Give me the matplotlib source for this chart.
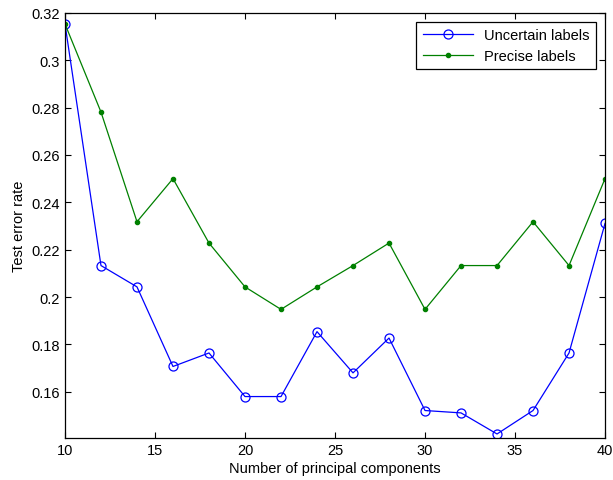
import matplotlib.pyplot as plt

plt.rcParams['font.family'] = ['Liberation Sans', 'DejaVu Sans']

# Number of principal components
components = [10, 12, 14, 16, 18, 20, 22, 24, 26, 28, 30, 32, 34, 36, 38, 40]

# Test error rates
uncertain = [0.3153, 0.2133, 0.2043, 0.1707, 0.1764, 0.1580, 0.1580, 0.1854,
             0.1680, 0.1827, 0.1521, 0.1511, 0.1422, 0.1521, 0.1764, 0.2311]
precise = [0.3153, 0.2781, 0.2318, 0.2500, 0.2228, 0.2043, 0.1948, 0.2043,
           0.2133, 0.2228, 0.1948, 0.2133, 0.2133, 0.2318, 0.2133, 0.2500]

yticks = [0.16, 0.18, 0.2, 0.22, 0.24, 0.26, 0.28, 0.3, 0.32]
ytick_labels = ['0.16', '0.18', '0.2', '0.22', '0.24', '0.26', '0.28', '0.3', '0.32']

fig = plt.figure(figsize=(6.13, 4.81), dpi=100)
ax = fig.add_axes([0.106, 0.0873, 0.881, 0.884])

ax.plot(components, uncertain, color='#0000ff', marker='o', markersize=6.5,
        markerfacecolor='none', markeredgewidth=0.9, linewidth=0.9,
        label='Uncertain labels')
ax.plot(components, precise, color='#008000', marker='.', markersize=6,
        linewidth=0.9, label='Precise labels')

ax.set_xlim(10, 40)
ax.set_ylim(0.1405, 0.32)
ax.set_xticks([10, 15, 20, 25, 30, 35, 40])
ax.set_yticks(yticks)
ax.set_yticklabels(ytick_labels)

ax.tick_params(direction='in', top=True, right=True, length=4, labelsize=10.5)
for spine in ax.spines.values():
    spine.set_linewidth(0.9)

ax.set_xlabel('Number of principal components', fontsize=10.5, labelpad=3)
ax.set_ylabel('Test error rate', fontsize=10.5, labelpad=4)

leg = ax.legend(loc='upper right', fontsize=10.5, fancybox=False,
                edgecolor='black', framealpha=1, handlelength=3.4,
                borderaxespad=0.6, borderpad=0.45, labelspacing=0.45)
leg.get_frame().set_linewidth(0.9)

fig.savefig('out.png', dpi=100)
